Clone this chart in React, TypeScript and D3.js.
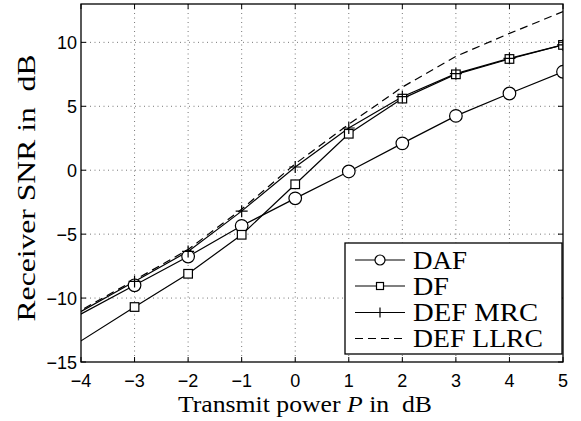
import React from "react";
import * as d3 from "d3";

// transmit power points (dB); -5 lies outside the axes and is clipped like the original
const powerDb = [-5, -3, -2, -1, 0, 1, 2, 3, 4, 5];
const dafSnr = [-13.5, -9.0, -6.75, -4.35, -2.2, -0.1, 2.1, 4.25, 6.0, 7.7];
const dfSnr = [-16.0, -10.7, -8.1, -5.05, -1.1, 2.85, 5.6, 7.5, 8.7, 9.8];
const mrcSnr = [-13.4, -8.7, -6.35, -3.2, 0.25, 3.3, 5.75, 7.55, 8.75, 9.8];
const llrcSnr = [-13.3, -8.6, -6.2, -3.05, 0.5, 3.6, 6.5, 8.9, 10.7, 12.4];

const xTicks = [-4, -3, -2, -1, 0, 1, 2, 3, 4, 5];
const yTicks = [-15, -10, -5, 0, 5, 10];

const series = [
  { name: "DAF", values: dafSnr, marker: "circle", dash: null },
  { name: "DF", values: dfSnr, marker: "square", dash: null },
  { name: "DEF MRC", values: mrcSnr, marker: "plus", dash: null },
  { name: "DEF LLRC", values: llrcSnr, marker: null, dash: "8,5" },
];
const legendTextWidth = [54, 36, 125, 130];

const W = 581;
const H = 421;
const margin = { top: 4, right: 18, bottom: 59, left: 81 };
const SERIF = "'Liberation Serif', 'DejaVu Serif', serif";
const SANS = "'Liberation Sans', Arial, sans-serif";

const Marker = ({ type, x, y }: { type: string | null; x: number; y: number }) => {
  if (type === "circle")
    return <circle cx={x} cy={y} r={6.3} fill="white" stroke="black" strokeWidth={1.2} />;
  if (type === "square")
    return <rect x={x - 4.3} y={y - 4.3} width={8.6} height={8.6} fill="white" stroke="black" strokeWidth={1.2} />;
  if (type === "plus")
    return <path d={`M${x - 6},${y}H${x + 6}M${x},${y - 6}V${y + 6}`} stroke="black" strokeWidth={1.2} />;
  return null;
};

const App = () => {
  const innerW = W - margin.left - margin.right;
  const innerH = H - margin.top - margin.bottom;
  const x = d3.scaleLinear().domain([-4, 5]).range([margin.left, margin.left + innerW]);
  const y = d3.scaleLinear().domain([-15, 13]).range([margin.top + innerH, margin.top]);

  const line = d3
    .line<number>()
    .x((_, i) => x(powerDb[i]))
    .y((d) => y(d));

  const x0 = x(-4);
  const x1 = x(5);
  const y0 = y(-15);
  const y1 = y(13);
  const tl = 5;

  // legend box
  const lg = { left: 345, top: 243, right: 562, bottom: 354 };
  const rowY = [260, 286, 312.5, 338.5];

  return (
    <svg width={W} height={H} style={{ position: "absolute", left: 0, top: 0, background: "white" }}>
      <defs>
        <clipPath id="plot-clip">
          <rect x={x0} y={y1} width={x1 - x0} height={y0 - y1} />
        </clipPath>
      </defs>
      <rect x={0} y={0} width={W} height={H} fill="white" />

      {/* grid */}
      <g stroke="#555" strokeWidth={0.8} strokeDasharray="1,3.5">
        {xTicks.slice(1, -1).map((t) => (
          <line key={"gx" + t} x1={x(t)} x2={x(t)} y1={y1} y2={y0} />
        ))}
        {yTicks.slice(1).map((t) => (
          <line key={"gy" + t} x1={x0} x2={x1} y1={y(t)} y2={y(t)} />
        ))}
      </g>

      {/* series */}
      <g clipPath="url(#plot-clip)">
        {series.map((s) => (
          <path
            key={s.name}
            d={line(s.values) || ""}
            fill="none"
            stroke="black"
            strokeWidth={1.2}
            strokeDasharray={s.dash || undefined}
          />
        ))}
        {series.map((s) =>
          s.values.map((v, i) =>
            powerDb[i] >= -4 ? (
              <Marker key={s.name + i} type={s.marker} x={x(powerDb[i])} y={y(v)} />
            ) : null
          )
        )}
      </g>

      {/* axes box and inward ticks */}
      <rect x={x0} y={y1} width={x1 - x0} height={y0 - y1} fill="none" stroke="black" strokeWidth={1.3} />
      <g stroke="black" strokeWidth={1}>
        {xTicks.map((t) => (
          <g key={"tx" + t}>
            <line x1={x(t)} x2={x(t)} y1={y0} y2={y0 - tl} />
            <line x1={x(t)} x2={x(t)} y1={y1} y2={y1 + tl} />
          </g>
        ))}
        {yTicks.map((t) => (
          <g key={"ty" + t}>
            <line x1={x0} x2={x0 + tl} y1={y(t)} y2={y(t)} />
            <line x1={x1} x2={x1 - tl} y1={y(t)} y2={y(t)} />
          </g>
        ))}
      </g>

      {/* tick labels */}
      <g fontFamily={SANS} fontSize={18} fill="black">
        {xTicks.map((t) => (
          <text key={"lx" + t} x={x(t)} y={386.5} textAnchor="middle">
            {t < 0 ? "\u2212" + Math.abs(t) : t}
          </text>
        ))}
        {yTicks.map((t) => (
          <text key={"ly" + t} x={x0 - 4} y={y(t) + 6.5} textAnchor="end">
            {t < 0 ? "\u2212" + Math.abs(t) : t}
          </text>
        ))}
      </g>

      {/* axis titles */}
      <text
        x={305}
        y={411.5}
        textAnchor="middle"
        fontFamily={SERIF}
        fontSize={23}
        textLength={254}
        lengthAdjust="spacingAndGlyphs"
        style={{ whiteSpace: "pre" }}
      >
        Transmit power <tspan fontStyle="italic">P</tspan> in  dB
      </text>
      <text
        transform={`translate(35,188) rotate(-90)`}
        textAnchor="middle"
        fontFamily={SERIF}
        fontSize={25}
        textLength={267}
        lengthAdjust="spacingAndGlyphs"
        style={{ whiteSpace: "pre" }}
      >
        Receiver SNR in  dB
      </text>

      {/* legend */}
      <rect
        x={lg.left}
        y={lg.top}
        width={lg.right - lg.left}
        height={lg.bottom - lg.top}
        fill="white"
        stroke="black"
        strokeWidth={1.3}
      />
      {series.map((s, i) => (
        <g key={"lg" + s.name}>
          <line
            x1={355}
            x2={405}
            y1={rowY[i]}
            y2={rowY[i]}
            stroke="black"
            strokeWidth={1.2}
            strokeDasharray={s.dash || undefined}
          />
          {s.marker === "circle" ? (
            <circle cx={380} cy={rowY[i]} r={5} fill="white" stroke="black" strokeWidth={1.2} />
          ) : s.marker === "square" ? (
            <rect x={376.5} y={rowY[i] - 3.5} width={7} height={7} fill="white" stroke="black" strokeWidth={1.2} />
          ) : s.marker === "plus" ? (
            <path d={`M${375},${rowY[i]}H${385}M${380},${rowY[i] - 5}V${rowY[i] + 5}`} stroke="black" strokeWidth={1.2} />
          ) : null}
          <text
            x={413}
            y={rowY[i] + 8.5}
            fontFamily={SERIF}
            fontSize={25}
            textLength={legendTextWidth[i]}
            lengthAdjust="spacingAndGlyphs"
          >
            {s.name}
          </text>
        </g>
      ))}
    </svg>
  );
};

export default App;
